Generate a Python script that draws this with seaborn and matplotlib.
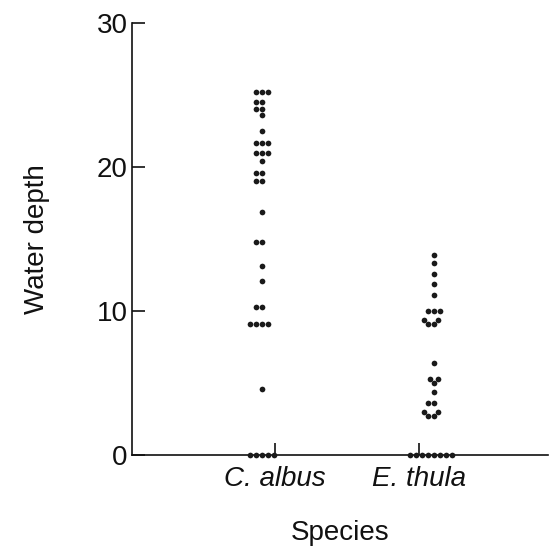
import numpy as np
import pandas as pd
from matplotlib import pyplot as plt
import seaborn as sns

SPECIES = ['C. albus', 'E. thula']

# water depth values
c_albus = [25.2, 25.2, 25.2, 24.5, 24.5, 24.0, 24.0, 23.6, 22.5,
           21.7, 21.7, 21.7, 21.0, 21.0, 21.0, 20.4, 19.6, 19.6, 19.0, 19.0,
           16.9, 14.8, 14.8, 13.1, 12.1, 10.3, 10.3, 9.1, 9.1, 9.1, 9.1,
           4.6, 0, 0, 0, 0, 0]
e_thula = [13.9, 13.3, 12.6, 11.9, 11.1, 10.0, 10.0, 10.0,
           9.4, 9.4, 9.1, 9.1, 6.4, 5.3, 5.3, 5.0, 4.4, 3.6, 3.6,
           3.0, 3.0, 2.7, 2.7, 0, 0, 0, 0, 0, 0, 0, 0]

Y_TICKS = [0, 10, 20, 30]

df = pd.DataFrame({
    'Species': [SPECIES[0]] * len(c_albus) + [SPECIES[1]] * len(e_thula),
    'Water depth': c_albus + e_thula,
})

sns.set_style("ticks")
plt.rcParams['font.family'] = ['Liberation Sans', 'DejaVu Sans']

fig = plt.figure(figsize=(5.58, 5.5), dpi=100)
ax = fig.add_axes([132 / 558, 1 - 455 / 550, (548 - 132) / 558, (455 - 23) / 550])

sns.swarmplot(data=df, x='Species', y='Water depth', order=SPECIES, ax=ax,
              color='#1a1a1a', size=4.1, linewidth=0, clip_on=False)

ax.set_ylim(0, 30)
ax.set_xlim(-0.756, 1.663)
ax.set_yticks(Y_TICKS)
ax.set_xticks([0.076, 0.913])
ax.set_xticklabels(SPECIES, fontstyle='italic')

for s in ['top', 'right']:
    ax.spines[s].set_visible(False)
for s in ['left', 'bottom']:
    ax.spines[s].set_linewidth(1.2)
    ax.spines[s].set_color('#111111')

ax.tick_params(axis='both', direction='in', length=9, width=1.2, color='#111111',
               labelsize=20, labelcolor='#111111')
ax.tick_params(axis='y', pad=3)
ax.tick_params(axis='x', pad=8)

ax.set_xlabel('Species', fontsize=20, color='#111111', labelpad=20)
ax.set_ylabel('Water depth', fontsize=20, color='#111111', labelpad=34)

fig.savefig('out.png', dpi=100)
